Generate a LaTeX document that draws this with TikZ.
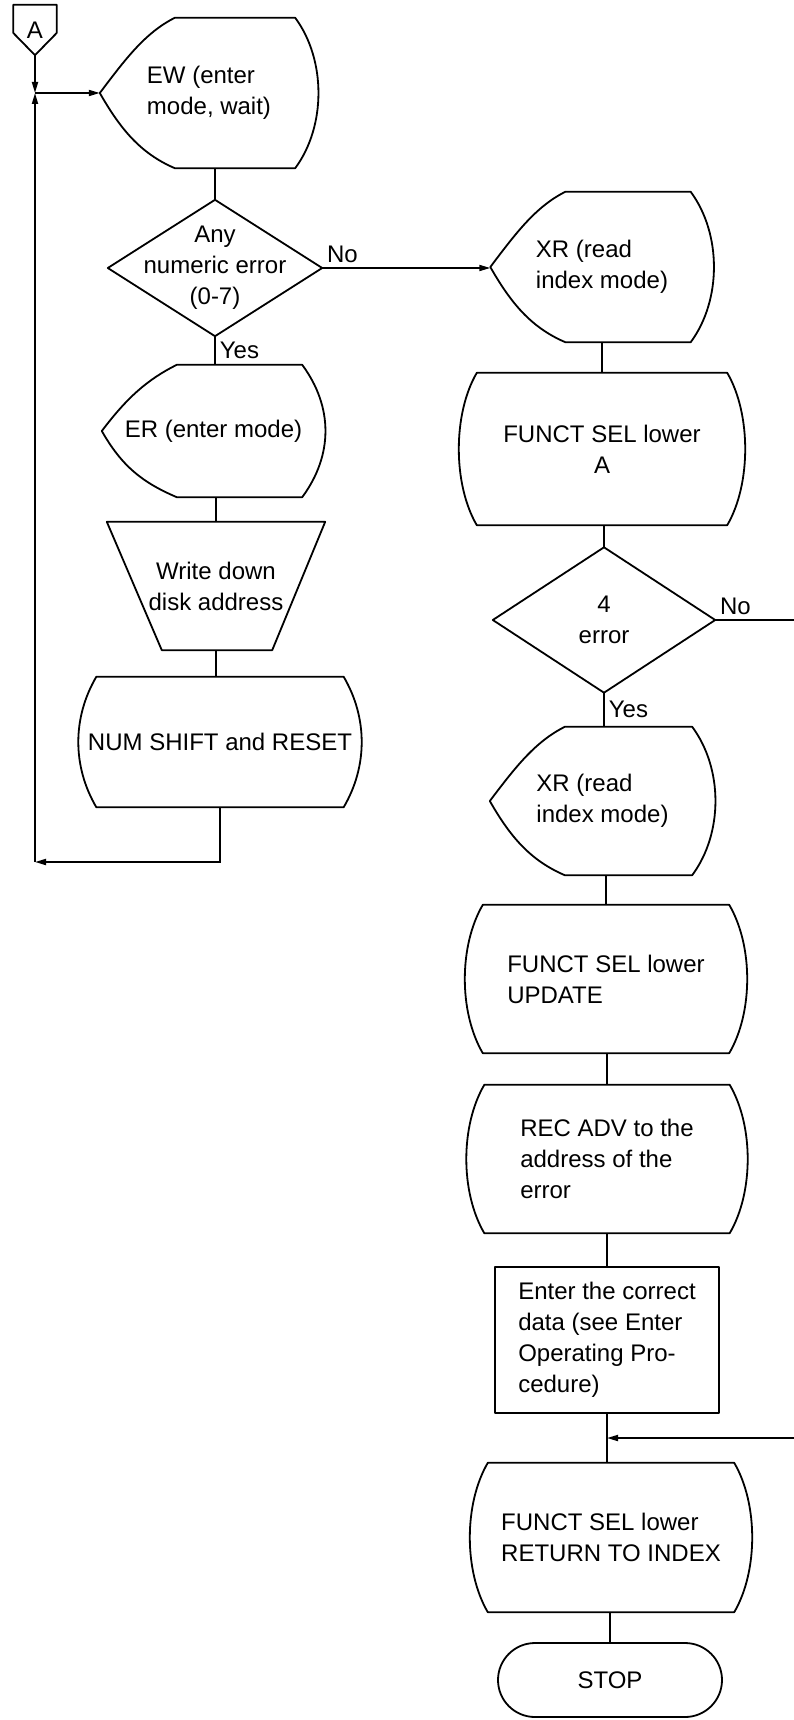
\documentclass[tikz,border=0pt]{standalone}
\usepackage{fontspec}
\setmainfont{Liberation Sans}
\usetikzlibrary{arrows.meta,calc}
\tikzset{
  blk/.style ={inner sep=0pt, font=\fontsize{24}{31}\selectfont},
  shp/.style ={draw=black, line width=1.8pt, line join=round},
  ln/.style  ={draw=black, line width=1.8pt},
  ar/.style  ={-{Triangle[length=11pt,width=6pt]}, draw=black, line width=1.8pt},
  lbl/.style ={font=\fontsize{24}{31}\selectfont, inner sep=4pt},
}

\begin{document}
\begin{tikzpicture}[x=1pt,y=-1pt]
\useasboundingbox (0,0) rectangle (793,1720);

% ---------- left column ----------
\node[blk,minimum width=43pt,minimum height=50pt] (conA) at (35,30) {A};
\node[blk,align=left,minimum width=218pt,minimum height=150pt] (ew) at (209,93) {EW (enter\\mode, wait)};
\node[blk,align=center,minimum width=214pt,minimum height=136pt] (qnum) at (215,268) {Any\\numeric error\\(0-7)};
\node[blk,minimum width=223pt,minimum height=132pt] (er) at (213.5,431) {ER (enter mode)};
\node[blk,align=center,minimum width=218pt,minimum height=128pt] (wdown) at (216,586) {Write down\\disk address};
\node[blk,minimum width=283pt,minimum height=130pt] (numsh) at (220,742) {NUM SHIFT and RESET};

% ---------- right column ----------
\node[blk,align=left,minimum width=223pt,minimum height=150pt] (xra) at (602,267) {XR (read\\index mode)};
\node[blk,align=center,minimum width=286pt,minimum height=152pt] (fsela) at (602,449) {FUNCT SEL lower\\A};
\node[blk,align=center,minimum width=222pt,minimum height=145pt] (qfour) at (604,620) {4\\error};
\node[blk,align=left,minimum width=225pt,minimum height=148pt] (xrb) at (602.5,801) {XR (read\\index mode)};
\node[blk,align=left,minimum width=282pt,minimum height=148pt] (fselu) at (606,979) {FUNCT SEL lower\\UPDATE};
\node[blk,align=left,minimum width=281pt,minimum height=148pt] (recadv) at (607,1159) {REC ADV to the\\address of the\\error};
\node[blk,shp,align=left,minimum width=224pt,minimum height=146pt] (enter) at (607,1340) {Enter the correct\\data (see Enter\\Operating Pro-\\cedure)};
\node[blk,align=left,minimum width=282pt,minimum height=149pt] (fselr) at (611,1537.5) {FUNCT SEL lower\\RETURN TO INDEX};
\node[blk,shp,rounded corners=37pt,minimum width=224pt,minimum height=74pt] (stop) at (610,1680) {STOP};

% ---------- outlines ----------
\draw[shp] (conA.north west) -- (conA.north east) -- ($(conA.east)+(0,3)$)
  -- (conA.south) -- ($(conA.west)+(0,3)$) -- cycle;
\foreach \n in {ew,er,xra,xrb}{
  \draw[shp] (\n.west) .. controls +(25,-33) and +(-30,15) .. ($(\n.north west)+(75,0)$)
    -- ($(\n.north east)+(-23,0)$) .. controls +(31,42) and +(31,-42) .. ($(\n.south east)+(-23,0)$)
    -- ($(\n.south west)+(75,0)$) .. controls +(-35,-15) and +(20,35) .. (\n.west) -- cycle;
}
\foreach \n in {numsh,fsela,fselu,recadv,fselr}{
  \draw[shp] ($(\n.north west)+(18,0)$) -- ($(\n.north east)+(-18,0)$)
    .. controls +(24,41) and +(24,-41) .. ($(\n.south east)+(-18,0)$)
    -- ($(\n.south west)+(18,0)$)
    .. controls +(-24,-41) and +(-24,41) .. ($(\n.north west)+(18,0)$) -- cycle;
}
\foreach \n in {qnum,qfour}{
  \draw[shp] (\n.north) -- (\n.east) -- (\n.south) -- (\n.west) -- cycle;
}
\draw[shp] (wdown.north west) -- (wdown.north east) -- ($(wdown.south east)+(-53,0)$)
  -- ($(wdown.south west)+(55,0)$) -- cycle;

% ---------- connectors, left ----------
\coordinate (jn) at (conA.south |- ew.west);
\coordinate (lp) at (35,862);
\draw[ar] (conA.south) -- (jn);
\draw[ar] (lp) -- (jn);
\draw[ar] (jn) -- (ew.west);
\draw[ln] (qnum.north |- ew.south) -- (qnum.north);
\draw[ln] (qnum.south) -- node[lbl,right] {Yes} (qnum.south |- er.north);
\draw[ln] (wdown.north |- er.south) -- (wdown.north);
\draw[ln] (wdown.south) -- (wdown.south |- numsh.north);
\draw[ar] (numsh.south) |- (lp);
\draw[ar] (qnum.east) -- node[lbl,pos=0,above right] {No} (qnum.east -| xra.west);

% ---------- connectors, right ----------
\draw[ln] (xra.south -| fsela.north) -- (fsela.north);
\draw[ln] (fsela.south -| qfour.north) -- (qfour.north);
\draw[ln] (qfour.south) -- node[lbl,right] {Yes} (qfour.south |- xrb.north);
\draw[ln] (xrb.south -| fselu.north) -- (fselu.north);
\draw[ln] (fselu.south -| recadv.north) -- (recadv.north);
\draw[ln] (recadv.south -| enter.north) -- (enter.north);
\draw[ln] (enter.south) -- (enter.south |- fselr.north);
\draw[ln] (fselr.south -| stop.north) -- (stop.north);
\coordinate (rta) at ($(qfour.east)+(82,0)$);
\coordinate (rtb) at (796,1438);
\draw[ln] (qfour.east) -- node[lbl,pos=0,above right] {No} (rta);
\draw[ar] (rtb) -- (rtb -| enter.south);
\end{tikzpicture}
\end{document}
